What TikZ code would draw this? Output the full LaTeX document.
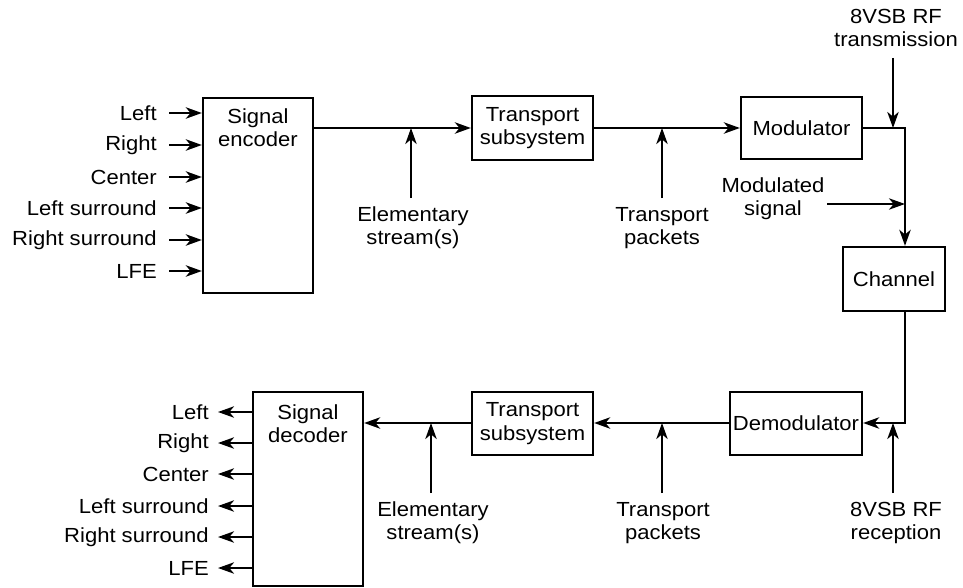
\documentclass[tikz,border=0pt]{standalone}
\usepackage{fontspec}
\setmainfont{Liberation Sans}[FakeStretch=1.08]
\usetikzlibrary{arrows.meta,fit}

\tikzset{
  blk/.style={draw, line width=1.7pt, inner sep=0pt},
  txt/.style={align=center, inner sep=0pt, font=\fontsize{15.3}{17.5}\selectfont},
  arr/.style={line width=1.7pt, -{Stealth[length=12pt,width=8.5pt,inset=3.5pt]}},
  lab/.style={txt, anchor=east},
}

\begin{document}
\begin{tikzpicture}[x=0.75pt, y=-0.75pt]
\useasboundingbox (0,0) rectangle (963,588);

% ---------- transmitter chain ----------
\node[blk, fit={(203,98) (313,293)}] (enc) {};
\node[txt] (enctxt) at (258,128) {Signal\\encoder};
\node[blk, fit={(472,96) (593,160)}] (tsA) {};
\node[txt] at (tsA.center) {Transport\\subsystem};
\node[blk, fit={(741,97) (862,159)}] (mod) {};
\node[txt] at (mod.center) {Modulator};
\node[blk, fit={(843,247) (945,311)}] (chan) {};
\node[txt] at (chan.center) {Channel};

% audio inputs
\foreach \y/\t [count=\i] in {113/Left, 145/Right, 177/Center, 208/Left surround, 240/Right surround, 271/LFE}{
  \node[lab] (in\i) at (157,\y) {\t};
  \coordinate (inS\i) at (169,\y);
  \draw[arr] (inS\i) -- (inS\i -| enc.west);
}

\draw[arr] (enc.east |- tsA.west) -- (tsA.west);
\draw[arr] (tsA.east) -- (mod.west);
\coordinate (turnA) at (905,128);
\draw[arr] (mod.east) -- (turnA) -- (turnA |- chan.north);

% side inputs, top
\node[txt] (esA) at (413,228) {Elementary\\stream(s)};
\coordinate (esAs) at (411,198);
\draw[arr] (esAs) -- (esAs |- tsA.west);
\node[txt] (tpA) at (662,228) {Transport\\packets};
\coordinate (tpAs) at (662,198);
\draw[arr] (tpAs) -- (tpAs |- tsA.east);
\node[txt] (rfT) at (896,28) {8VSB RF\\transmission};
\coordinate (rfTs) at (893,58);
\draw[arr] (rfTs) -- (rfTs |- turnA);
\node[txt] (msig) at (773,199) {Modulated\\signal};
\coordinate (msigs) at (827,204);
\draw[arr] (msigs) -- (msigs -| turnA);

% ---------- receiver chain ----------
\node[blk, fit={(730,392) (862,455)}] (demod) {};
\node[txt] at (demod.center) {Demodulator};
\node[blk, fit={(472,392) (593,455)}] (tsB) {};
\node[txt] at (tsB.center) {Transport\\subsystem};
\node[blk, fit={(253,392) (363,586)}] (dec) {};
\node[txt] (dectxt) at (308,424) {Signal\\decoder};

\coordinate (turnB) at (905,423);
\draw[arr] (turnA |- chan.south) -- (turnB) -- (turnB -| demod.east);
\draw[arr] (demod.west |- turnB) -- (tsB.east |- turnB);
\draw[arr] (tsB.west |- turnB) -- (dec.east |- turnB);

\node[txt] (esB) at (433,523) {Elementary\\stream(s)};
\coordinate (esBs) at (431,493);
\draw[arr] (esBs) -- (esBs |- turnB);
\node[txt] (tpB) at (663,523) {Transport\\packets};
\coordinate (tpBs) at (662,493);
\draw[arr] (tpBs) -- (tpBs |- turnB);
\node[txt] (rfR) at (896,523) {8VSB RF\\reception};
\coordinate (rfRs) at (893,493);
\draw[arr] (rfRs) -- (rfRs |- turnB);

% audio outputs
\foreach \y/\t [count=\i] in {412/Left, 443/Right, 474/Center, 506/Left surround, 537/Right surround, 568/LFE}{
  \node[lab] (out\i) at (209,\y) {\t};
  \coordinate (outE\i) at (218,\y);
  \draw[arr] (outE\i -| dec.west) -- (outE\i);
}
\end{tikzpicture}
\end{document}
